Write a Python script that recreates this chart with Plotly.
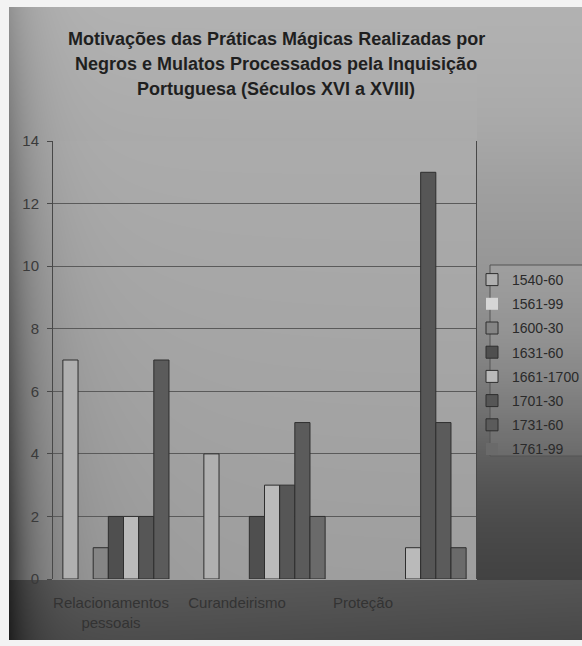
import base64
import struct
import zlib

import numpy as np
import plotly.graph_objects as go

# ---- data ----
categories = ["Relacionamentos pessoais", "Curandeirismo", "Proteção"]
category_labels = ["Relacionamentos<br>pessoais", "Curandeirismo", "Proteção"]
periods = ["1540-60", "1561-99", "1600-30", "1631-60", "1661-1700", "1701-30", "1731-60", "1761-99"]
relacionamentos = [7, 0, 1, 2, 2, 2, 7, 0]
curandeirismo = [4, 0, 0, 2, 3, 3, 5, 2]
protecao = [0, 0, 0, 0, 1, 13, 5, 1]
y_ticks = [0, 2, 4, 6, 8, 10, 12, 14]
title_lines = [
    "Motivações das Práticas Mágicas Realizadas por",
    "Negros e Mulatos Processados pela Inquisição",
    "Portuguesa (Séculos XVI a XVIII)",
]

# ---- styling ----
bar_colors = ["#b0b0b0", "#d6d6d6", "#858585", "#4f4f4f", "#bababa", "#565656", "#5b5b5b", "#6a6a6a"]
W, H = 582, 646
L, R, T, B = 53, 476, 141, 579  # plot area in pixels


def px(x):
    return (x - L) / (R - L)


def py(y):
    return (B - y) / (B - T)


def rect(x0, x1, y0, y1, fill, line=None):
    return dict(type="rect", xref="paper", yref="paper", x0=px(x0), x1=px(x1), y0=py(y0), y1=py(y1),
                fillcolor=fill, line=line or dict(width=0), layer="below")


def sigmoid(z):
    return 1 / (1 + np.exp(-z))


# ---- photographic background tone (smooth lighting), encoded as a grayscale PNG ----
def background_png():
    X, Y = np.meshgrid(np.arange(W, dtype=float), np.arange(H, dtype=float))
    v = 178.0 - 0.055 * (Y - 10)
    # right side (beside the plot) darkens towards the bottom
    right = X > R
    v = np.where(right, v - 9 * sigmoid((Y - 150) / 25) - 75 * sigmoid((Y - 420) / 55), v)
    # plot area
    inside = (X >= L) & (X <= R) & (Y >= T) & (Y <= B)
    vp = 172.0 - 0.03 * (Y - T) - 14 * np.exp(-(X - L) / 70) * (Y - T) / (B - T)
    v = np.where(inside, vp, v)
    # dark band under the plot
    band = Y > B
    v = np.where(band, 92 - 0.22 * (Y - B) - 6 * (X / W), v)
    # left vignette
    v = v * (1 - 0.5 * np.exp(-(X - 9) / 24) * np.clip(0.35 + Y / H, 0, 1.2))
    # white border of the photo
    border = (X < 9) | (Y < 7) | (Y >= 640)
    v = np.where(border, 243, v)
    img = np.clip(v, 0, 255).astype(np.uint8)
    raw = b"".join(b"\x00" + img[r].tobytes() for r in range(H))

    def chunk(tag, data):
        c = struct.pack(">I", len(data)) + tag + data
        return c + struct.pack(">I", zlib.crc32(tag + data) & 0xFFFFFFFF)

    png = (b"\x89PNG\r\n\x1a\n" + chunk(b"IHDR", struct.pack(">IIBBBBB", W, H, 8, 0, 0, 0, 0))
           + chunk(b"IDAT", zlib.compress(raw, 9)) + chunk(b"IEND", b""))
    return "data:image/png;base64," + base64.b64encode(png).decode()


fig = go.Figure()
by_category = [relacionamentos, curandeirismo, protecao]
for i, p in enumerate(periods):
    vals = [c[i] for c in by_category]
    fig.add_trace(go.Bar(
        name=p,
        x=categories,
        y=vals,
        marker=dict(color=bar_colors[i],
                    line=dict(color="#2e2e2e", width=[1 if v > 0 else 0 for v in vals])),
        legendgroup=p,
    ))

# invisible trace to carry the category label axis
fig.add_trace(go.Scatter(x=[None], y=[None], xaxis="x2", showlegend=False, hoverinfo="skip"))

shapes = [rect(490, W + 5, 265, 456, "rgba(255,255,255,0.08)", dict(color="#555555", width=1))]

annotations = []
for k, line in enumerate(title_lines):
    annotations.append(dict(text=line, xref="paper", yref="paper", x=px(276), y=py(39 + 25 * k),
                            xanchor="center", yanchor="middle", showarrow=False,
                            font=dict(family="Liberation Sans, Arial, sans-serif", size=18, color="#1f1f1f",
                                      weight="bold")))

fig.update_layout(
    width=W, height=H,
    margin=dict(l=L, r=W - R, t=T, b=H - B, autoexpand=False),
    paper_bgcolor="#9a9a9a",
    plot_bgcolor="rgba(0,0,0,0)",
    barmode="group", bargap=0.14, bargroupgap=0,
    font=dict(family="Liberation Sans, Arial, sans-serif", size=14, color="#333333"),
    showlegend=True,
    legend=dict(x=px(472), y=py(264), xanchor="left", yanchor="top", bgcolor="rgba(0,0,0,0)",
                borderwidth=0, font=dict(size=14, color="#2a2a2a"), tracegroupgap=3,
                traceorder="grouped", itemclick=False, itemwidth=30),
    xaxis=dict(type="category", showticklabels=False, showline=False, ticks="", showgrid=False,
               range=[-0.5, 2.5]),
    xaxis2=dict(overlaying="x", anchor="y", side="bottom", range=[(L - 111) / 126, (R - 111) / 126],
                tickvals=[0, 1, 2], ticktext=category_labels, showgrid=False, zeroline=False,
                showline=False, ticks="outside", ticklen=10, tickcolor="rgba(0,0,0,0)",
                tickfont=dict(size=15, color="#333333")),
    yaxis=dict(range=[0, 14], tickvals=y_ticks, showgrid=True, gridcolor="#5a5a5a", gridwidth=1,
               showline=True, linecolor="#484848", linewidth=1, mirror=True,
               ticks="outside", ticklen=5, tickcolor="#484848", zeroline=False,
               ticklabelstandoff=5, tickfont=dict(size=15, color="#3a3a3a")),
    images=[dict(source=background_png(), xref="paper", yref="paper", x=px(0), y=py(0),
                 sizex=W / (R - L), sizey=H / (B - T), xanchor="left", yanchor="top",
                 sizing="stretch", layer="below")],
    shapes=shapes,
    annotations=annotations,
)

fig.write_html("out.html")
